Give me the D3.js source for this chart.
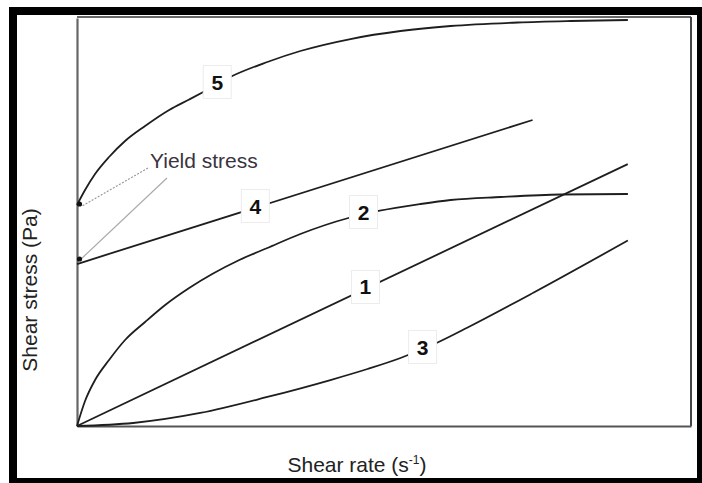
<!DOCTYPE html>
<html><head><meta charset="utf-8">
<script src="https://cdn.jsdelivr.net/npm/d3@7"></script>
<style>
html,body{margin:0;padding:0;background:#fff;}
svg{display:block;font-family:Arial,"Liberation Sans",sans-serif;}
</style></head>
<body>
<svg id="chart" width="702" height="483"></svg>
<script>
// ---- data (arbitrary units: x 0..100 shear rate, y 0..100 shear stress) ----
const curve1 = [[0,0],[89.7,64.2]];
const curve2 = [[0,0],[1.31,6.13],[2.94,11.27],[5.22,16.18],[7.83,21.08],[11.09,25.49],[14.36,29.66],[18.27,33.82],[22.02,37.25],[26.43,40.69],[31.0,43.63],[36.38,47.06],[44.21,50.98],[49.1,52.7],[55.95,54.41],[60.85,55.39],[69.0,56.13],[78.79,56.74],[89.72,56.86]];
const curve3 = [[0,0],[9.14,0.74],[20.07,3.19],[31.0,7.11],[41.27,11.27],[47.31,13.97],[52.69,16.67],[58.73,20.47],[63.62,24.14],[74.39,32.72],[89.72,45.47]];
const curve4 = [[0,39.7],[74.2,75.0]];
const curve5 = [[0,54.17],[1.31,57.84],[2.94,61.76],[5.22,65.93],[7.83,69.85],[11.09,73.53],[15.01,77.45],[18.27,80.02],[20.88,82.11],[25.29,85.78],[31.0,89.22],[36.38,91.91],[44.54,94.85],[52.69,96.81],[60.85,98.04],[71.78,98.9],[80.42,99.26],[89.72,99.51]];
const curves = [curve1, curve2, curve3, curve4, curve5];
const labelNames = ["1","2","3","4","5"];
const labelPos = [[46.98,34.07],[46.66,52.45],[56.28,19.36],[29.04,53.92],[22.84,84.31]];
const yieldPoints = [[0,54.17],[0,39.7]];
const yieldText = "Yield stress";
const xTitle = "Shear rate (s";
const xTitleSup = "-1";
const yTitle = "Shear stress (Pa)";

const svg = d3.select("#chart");
const L = 77, R = 691, T = 17, B = 426;
const x = d3.scaleLinear().domain([0,100]).range([L, R]);
const y = d3.scaleLinear().domain([0,100]).range([B, T + 1]);

// outer thick black frame
svg.append("rect").attr("x",13).attr("y",11).attr("width",688).attr("height",471)
  .attr("fill","none").attr("stroke","#000").attr("stroke-width",8);

// plot box: top/right lines
svg.append("line").attr("x1",L).attr("x2",R).attr("y1",T).attr("y2",T).attr("stroke","#333").attr("stroke-width",1.5);
svg.append("line").attr("x1",R).attr("x2",R).attr("y1",T).attr("y2",B).attr("stroke","#444").attr("stroke-width",2);

// axes (no ticks)
const xAxis = svg.append("g").attr("transform",`translate(0,${B})`)
  .call(d3.axisBottom(x).tickValues([]).tickSizeOuter(0));
xAxis.select(".domain").attr("stroke","#555").attr("stroke-width",2.2);
const yAxis = svg.append("g").attr("transform",`translate(${L},0)`)
  .call(d3.axisLeft(y).tickValues([]).tickSizeOuter(0));
yAxis.select(".domain").attr("stroke","#666").attr("stroke-width",2.2);

// yield stress leaders
svg.append("line").attr("x1",148).attr("y1",168).attr("x2",x(0)+5).attr("y2",y(yieldPoints[0][1])+1)
  .attr("stroke","#999").attr("stroke-width",1.2).attr("stroke-dasharray","2,1.5");
svg.append("line").attr("x1",167).attr("y1",178).attr("x2",x(0)+3).attr("y2",y(yieldPoints[1][1])-4)
  .attr("stroke","#aaa").attr("stroke-width",1.2);
svg.append("text").attr("x",150).attr("y",168).attr("font-size",21)
  .attr("fill","#3b3340").text(yieldText);

// curves
const line = d3.line().x(d=>x(d[0])).y(d=>y(d[1])).curve(d3.curveMonotoneX);
svg.append("g").selectAll("path").data(curves).join("path")
  .attr("d", line).attr("fill","none").attr("stroke","#1e1e1e").attr("stroke-width",1.8);

// yield dots
svg.append("g").selectAll("circle").data(yieldPoints).join("circle")
  .attr("cx",d=>x(d[0])+2.5).attr("cy",(d,i)=>y(d[1])-(i===1?5:1)).attr("r",2.6).attr("fill","#111");

// curve labels
const lg = svg.append("g").selectAll("g").data(labelPos).join("g")
  .attr("transform",d=>`translate(${x(d[0])},${y(d[1])})`);
lg.append("rect").attr("x",-14).attr("y",-16.5).attr("width",28).attr("height",33)
  .attr("fill","#fff").attr("stroke","#ececec").attr("stroke-width",1);
lg.append("text").attr("text-anchor","middle").attr("y",7.5).attr("font-size",21)
  .attr("font-weight","bold").attr("fill","#111").text((d,i)=>labelNames[i]);

// axis titles
const xt = svg.append("text").attr("x",357).attr("y",472).attr("text-anchor","middle")
  .attr("font-size",21).attr("fill","#222");
xt.append("tspan").text(xTitle);
xt.append("tspan").attr("font-size",12).attr("dy",-8).text(xTitleSup);
xt.append("tspan").attr("dy",8).text(")");

svg.append("text").attr("transform","translate(37,290) rotate(-90)").attr("text-anchor","middle")
  .attr("font-size",21).attr("fill","#222").text(yTitle);
</script>
</body></html>
